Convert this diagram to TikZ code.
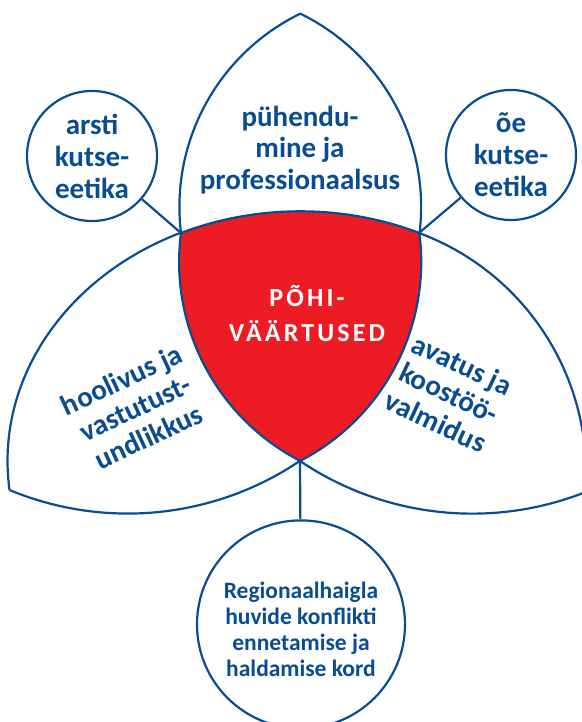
\documentclass[tikz,border=0pt]{standalone}
\usepackage{fontspec}
\setmainfont{Carlito}
\usepackage{xcolor}
\usepackage{tikz}
\definecolor{rhblue}{RGB}{8,76,145}
\definecolor{rhred}{RGB}{237,28,36}
\newfontfamily\spacedfont[LetterSpace=12]{Carlito}

\begin{document}
\begin{tikzpicture}[
    x=1bp, y=1bp,
    every node/.style={font=\bfseries\fontsize{29bp}{32bp}\selectfont, text=rhblue, align=center},
    blueline/.style={draw=rhblue, line width=2.2bp},
    circ/.style={circle, blueline, fill=white, minimum size=130bp, inner sep=0pt},
    bigcirc/.style={circ, minimum size=208bp},
    smalltext/.style={font=\bfseries\fontsize{23.5bp}{26bp}\selectfont},
    lobetext/.style={font=\bfseries\fontsize{29bp}{31.5bp}\selectfont}
]
\useasboundingbox (0,0) rectangle (582,722);
\clip (0,0) rectangle (582,722);

% corner points of the lobes
\coordinate (A) at (181,489);
\coordinate (B) at (419,489);
\coordinate (C) at (300,261);
\coordinate (T) at (300,708);
\coordinate (L) at (9.5,232);

% red core
\filldraw[blueline, fill=rhred] (A) arc[start angle=172.56, end angle=242.64, radius=224bp]
    arc[start angle=-62.64, end angle=7.44, radius=224bp]
    arc[start angle=65.96, end angle=114.04, x radius=292.5bp, y radius=250bp] -- cycle;

% outer edges
\draw[blueline] (L) arc[start angle=186.66, end angle=114.04, x radius=292.5bp, y radius=250bp];
\draw[blueline] (B) arc[start angle=69.65, end angle=-5, radius=256bp];
\draw[blueline] (A) arc[start angle=186.96, end angle=115.97, radius=215bp]
    arc[start angle=64.03, end angle=-6.96, radius=215bp];
\draw[blueline] (L) arc[start angle=247.44, end angle=304, radius=308bp];
\draw[blueline] (C) arc[start angle=236, end angle=295, radius=308bp];

% side circles
\node[circ] (arsti) at (92,566) {arsti\\kutse-\\eetika};
\node[circ] (oe) at (511,567) {õe\\kutse-\\eetika};
\node[bigcirc, label={[smalltext, yshift=-5bp]center:Regionaalhaigla\\huvide konflikti\\ennetamise ja\\haldamise kord}] (kord) at (301,97.6) {};

\draw[blueline] (A) -- (arsti);
\draw[blueline] (B) -- (oe);
\draw[blueline] (C) -- (kord);

% lobe texts
\node[lobetext] (top) at (300,572) {pühendu-\\mine ja\\professionaalsus};
\node[lobetext, rotate=25] (left) at (135,314) {hoolivus ja\\vastutust-\\undlikkus};
\node[lobetext, rotate=-25] (right) at (449,329) {avatus ja\\koostöö-\\valmidus};
\node[text=white, font=\spacedfont\bfseries\fontsize{26bp}{35bp}\selectfont] (core) at (307,408) {PÕHI-\\VÄÄRTUSED};
\end{tikzpicture}
\end{document}
